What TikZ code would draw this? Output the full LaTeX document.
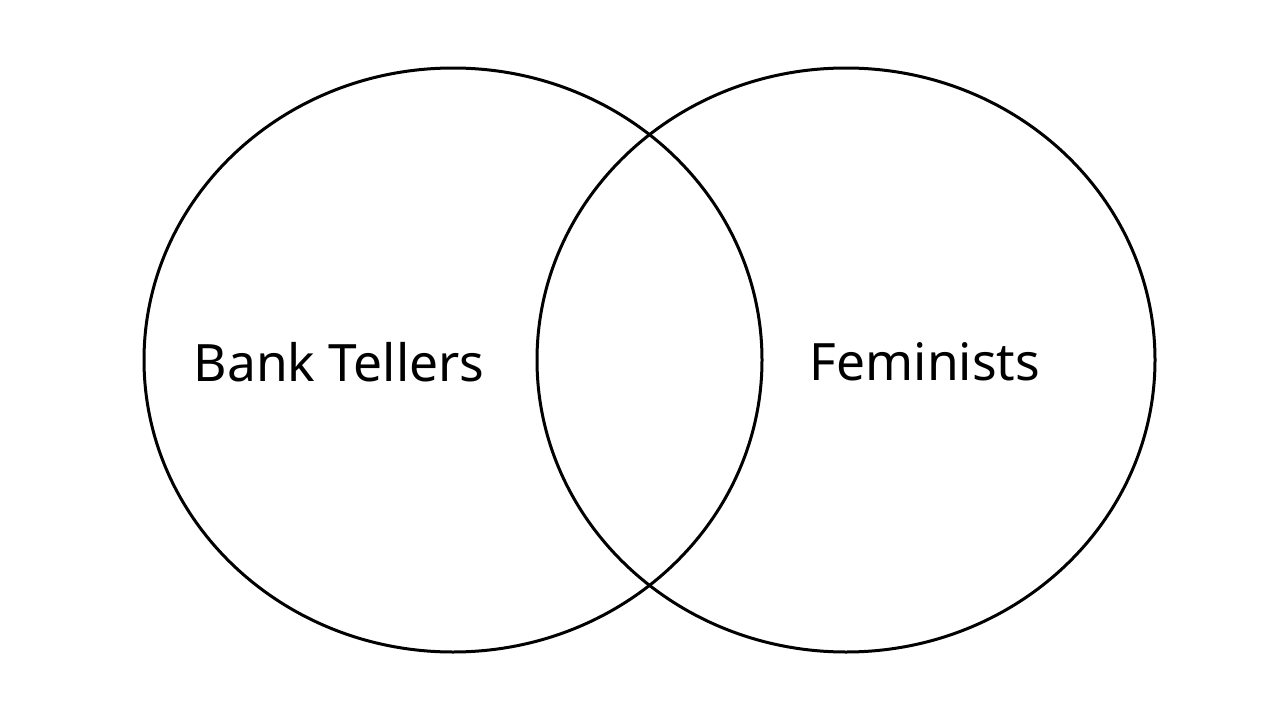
\documentclass[tikz,border=0pt]{standalone}
\usepackage{fontspec}
\setmainfont{Noto Sans}
\begin{document}
\begin{tikzpicture}[x=1pt,y=-1pt,
  setline/.style={draw=black,line width=3pt},
  lbl/.style={font=\fontsize{51.5}{60}\selectfont,text=black}]
\useasboundingbox (0,0) rectangle (1280,720);
\draw[setline] (453,360) ellipse [x radius=309, y radius=292];
\draw[setline] (846,360) ellipse [x radius=309, y radius=292];
\node[lbl] (bt) at (339,362) {Bank Tellers};
\node[lbl] (fe) at (925,362) {Feminists};
\end{tikzpicture}
\end{document}
